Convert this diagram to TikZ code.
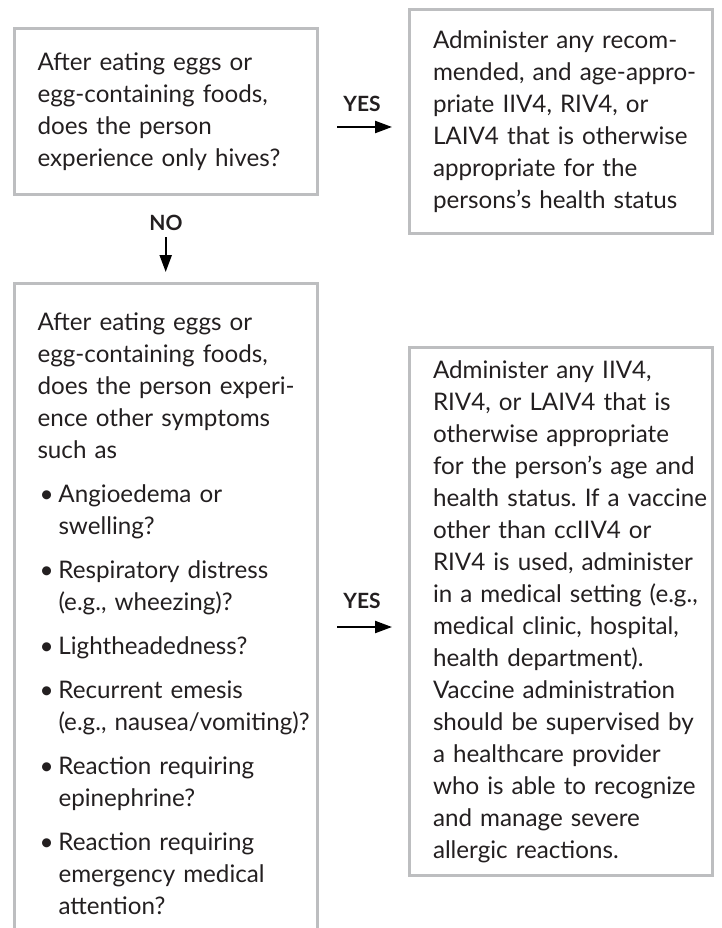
\documentclass[tikz,border=0pt]{standalone}
\usepackage{fontspec}
\setmainfont{Lato}
\usetikzlibrary{arrows.meta,positioning}
\definecolor{boxgray}{RGB}{189,190,192}
\definecolor{inkgray}{RGB}{35,31,32}
\newcommand{\bulmark}{\makebox[21pt][l]{\hspace{2pt}\textbullet}}
\newcommand{\bulgap}{\hspace*{21pt}}
\newcommand{\boxlines}[1]{\leftskip=23.5pt\relax\hyphenpenalty=10000\relax\frenchspacing#1\par}
\tikzset{
    % Boxes
    qbox/.style={
        rectangle,
        draw=boxgray,
        line width=3pt,
        align=left,
        inner xsep=0pt,
        text width=303pt,
        minimum width=303pt,
        text=inkgray,
        font=\fontsize{24.2}{32}\selectfont
    },
    % Arrows
    flowarrow/.style={
        -{Triangle[length=17pt,width=12pt]},
        line width=2.2pt,
        draw=black
    },
    % Labels
    answer/.style={
        font=\fontsize{21}{22}\selectfont\bfseries,
        text=inkgray
    }
}

\begin{document}
\begin{tikzpicture}[x=1pt,y=-1pt]
    \useasboundingbox (0,0) rectangle (722,928);
    \clip (0,0) rectangle (722,928);

    % Question 1
    \node[qbox, minimum height=166pt] (hives) at (165.5,111.5)
        {\boxlines{After eating eggs or\\egg-containing foods,\\does the person\\experience only hives?}};

    % Answer: hives only
    \node[qbox, minimum height=224pt] (anyvax) at (561,121.5)
        {\boxlines{Administer any recom-\\mended, and age-appro-\\priate IIV4, RIV4, or\\LAIV4 that is otherwise\\appropriate for the\\persons's health status}};

    % Question 2 (runs off the bottom)
    \node[qbox, anchor=north, inner ysep=30pt] (symptoms) at (165.5,281.5)
        {\boxlines{After eating eggs or\\egg-containing foods,\\does the person experi-\\ence other symptoms\\such as\\[12pt]%
         \bulmark Angioedema or\\\bulgap swelling?\\[12pt]%
         \bulmark Respiratory distress\\\bulgap (e.g., wheezing)?\\[12pt]%
         \bulmark Lightheadedness?\\[12pt]%
         \bulmark Recurrent emesis\\\bulgap (e.g., nausea/vomiting)?\\[12pt]%
         \bulmark Reaction requiring\\\bulgap epinephrine?\\[12pt]%
         \bulmark Reaction requiring\\\bulgap emergency medical\\\bulgap attention?}};

    % Answer: other symptoms
    \node[qbox, minimum height=528pt] (medsetting) at (561,611.5)
        {\boxlines{Administer any IIV4,\\RIV4, or LAIV4 that is\\otherwise appropriate\\for the person's age and\\health status. If a vaccine\\other than ccIIV4 or\\RIV4 is used, administer\\in a medical setting (e.g.,\\medical clinic, hospital,\\health department).\\Vaccine administration\\should be supervised by\\a healthcare provider\\who is able to recognize\\and manage severe\\allergic reactions.}};

    % Answer labels
    \node[answer] (yestop) at (362,104) {YES};
    \node[answer] (no) at (166,223) {NO};
    \node[answer] (yesbot) at (362,601) {YES};

    % Arrow ends
    \coordinate (yestopA) at (337,127);
    \coordinate (yestopB) at (392,127);
    \coordinate (noA) at (165.7,237);
    \coordinate (noB) at (165.7,272);
    \coordinate (yesbotA) at (337,627);
    \coordinate (yesbotB) at (392,627);

    \draw[flowarrow] (yestopA) -- (yestopB);
    \draw[flowarrow] (noA) -- (noB);
    \draw[flowarrow] (yesbotA) -- (yesbotB);

\end{tikzpicture}
\end{document}
